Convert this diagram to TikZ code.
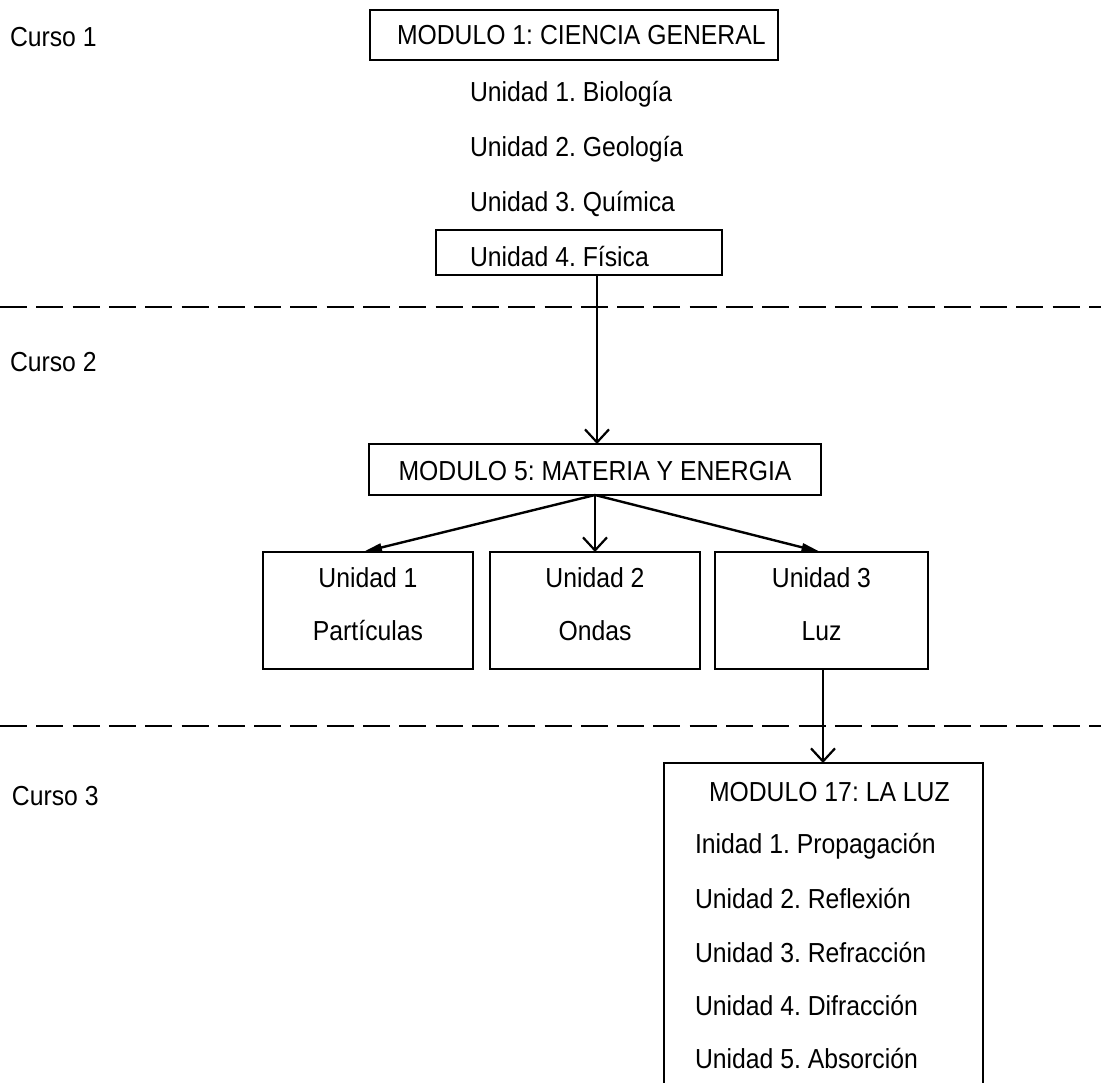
\documentclass[tikz,border=0pt]{standalone}
\usepackage{fontspec}
\setmainfont{Liberation Sans}[FakeStretch=0.9]
\usetikzlibrary{arrows.meta}
\frenchspacing
\begin{document}
\begin{tikzpicture}[x=1pt,y=-1pt,
  every node/.style={inner sep=0pt, outer sep=0pt},
  txt/.style={font=\fontsize{27.5}{33}\selectfont, anchor=base west},
  ctxt/.style={font=\fontsize{27.5}{33}\selectfont, anchor=base},
  box/.style={draw, line width=2.6pt},
  link/.style={line width=2.2pt, -{Straight Barb[length=13pt,width=24pt]}},
  slant/.style={line width=2.4pt, -{Triangle[length=19pt,width=8pt]}},
  sep/.style={line width=2.8pt, dash pattern=on 27pt off 9.3pt}]
\useasboundingbox (0,0) rectangle (1101,1083);
\clip (0,0) rectangle (1101,1083);

% course labels
\node[txt] (c1) at (10,47) {Curso 1};
\node[txt] (c2) at (10,372) {Curso 2};
\node[txt] (c3) at (12,805) {Curso 3};

% course separators
\coordinate (s1l) at (0,307);  \coordinate (s1r) at (1101,307);
\coordinate (s2l) at (0,726);  \coordinate (s2r) at (1101,726);
\draw[sep] (s1l) -- (s1r);
\draw[sep] (s2l) -- (s2r);

% module 1
\node[box, minimum width=408pt, minimum height=50pt] (m1) at (574,35) {};
\node[txt] (m1t) at (397,45) {MODULO 1: CIENCIA GENERAL};
\node[txt] (m1u1) at (470,102) {Unidad 1. Biología};
\node[txt] (m1u2) at (470,157) {Unidad 2. Geología};
\node[txt] (m1u3) at (470,212) {Unidad 3. Química};
\node[box, minimum width=286pt, minimum height=45pt] (fis) at (579,252.5) {};
\node[txt] (m1u4) at (470,267) {Unidad 4. Física};

% module 5
\node[box, minimum width=452pt, minimum height=51pt] (m5) at (595,469.5) {};
\node[ctxt] (m5t) at (595,480) {MODULO 5: MATERIA Y ENERGIA};
\node[box, minimum width=210pt, minimum height=117pt] (u1) at (368,610.5) {};
\node[box, minimum width=210pt, minimum height=117pt] (u2) at (595,610.5) {};
\node[box, minimum width=213pt, minimum height=117pt] (u3) at (821.5,610.5) {};
\node[ctxt] (u1a) at (368,587) {Unidad 1};
\node[ctxt] (u1b) at (368,640) {Partículas};
\node[ctxt] (u2a) at (595,587) {Unidad 2};
\node[ctxt] (u2b) at (595,640) {Ondas};
\node[ctxt] (u3a) at (821.5,587) {Unidad 3};
\node[ctxt] (u3b) at (821.5,640) {Luz};

% module 17 (box runs past the lower edge)
\node[minimum width=319pt, minimum height=340pt, anchor=north west] (m17) at (664,763) {};
\draw[line width=2.6pt] (m17.south west) -- (m17.north west) -- (m17.north east) -- (m17.south east);
\node[txt] (m17t) at (709,801) {MODULO 17: LA LUZ};
\node[txt] (m17u1) at (695,853) {Inidad 1. Propagación};
\node[txt] (m17u2) at (695,908) {Unidad 2. Reflexión};
\node[txt] (m17u3) at (695,962) {Unidad 3. Refracción};
\node[txt] (m17u4) at (695,1015) {Unidad 4. Difracción};
\node[txt] (m17u5) at (695,1068) {Unidad 5. Absorción};

% connectors
\draw[link] ([xshift=18pt]fis.south) -- ([xshift=18pt]fis.south |- m5.north);
\draw[slant] (m5.south) -- ([xshift=-5pt]u1.north);
\draw[link] (m5.south) -- (u2.north);
\draw[slant] (m5.south) -- ([xshift=-1pt]u3.north);
\draw[link] ([xshift=1.5pt]u3.south) -- ([xshift=1.5pt]u3.south |- m17.north);
\end{tikzpicture}
\end{document}
